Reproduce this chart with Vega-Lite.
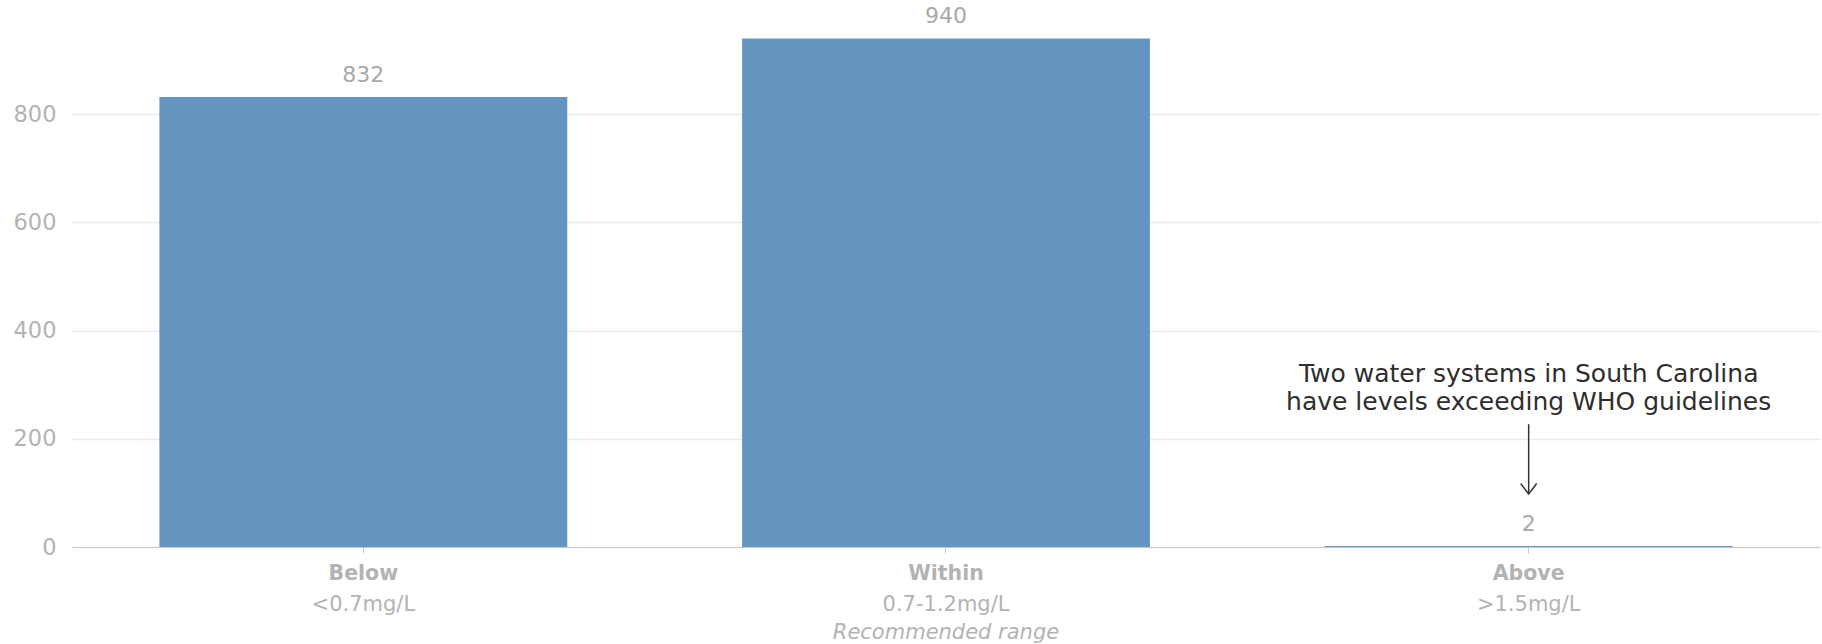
{
  "$schema": "https://vega.github.io/schema/vega-lite/v6.json",
  "width": 1748,
  "height": 541,
  "autosize": {"type": "none"},
  "padding": {"left": 72, "top": 6, "right": 2, "bottom": 97},
  "config": {
    "view": {"stroke": null},
    "font": "DejaVu Sans",
    "text": {"font": "DejaVu Sans"}
  },
  "datasets": {
    "counts": [
      {"level": "Below", "systems": 832},
      {"level": "Within", "systems": 940},
      {"level": "Above", "systems": 2}
    ],
    "note": [
      {"level": "Above", "y": 320, "line": "Two water systems in South Carolina"},
      {"level": "Above", "y": 268, "line": "have levels exceeding WHO guidelines"}
    ],
    "arrow": [
      {"level": "Above", "start": 227, "end": 98}
    ]
  },
  "resolve": {"axis": {"x": "independent"}},
  "layer": [
    {
      "data": {"name": "counts"},
      "mark": {"type": "bar", "color": "#6495c0"},
      "encoding": {
        "x": {
          "field": "level", "type": "nominal", "sort": ["Below", "Within", "Above"],
          "scale": {"paddingInner": 0.3, "paddingOuter": 0.15},
          "axis": {
            "orient": "bottom", "title": null, "labelAngle": 0,
            "labelFontWeight": "bold", "labelFontSize": 20.5, "labelColor": "#b3b3b3",
            "domainColor": "#c8c8c8", "tickColor": "#c8c8c8", "tickSize": 6,
            "labelPadding": 10, "grid": false
          }
        },
        "y": {
          "field": "systems", "type": "quantitative",
          "scale": {"domain": [0, 1000], "nice": false},
          "axis": {
            "title": null, "values": [0, 200, 400, 600, 800],
            "domain": false, "ticks": false, "labelPadding": 16,
            "labelFontSize": 22.5, "labelColor": "#b3b3b3",
            "gridColor": "#ebebeb", "gridWidth": 1.5
          }
        }
      }
    },
    {
      "data": {"name": "counts"},
      "mark": {"type": "text", "baseline": "middle", "dy": -22, "fontSize": 22, "color": "#a8a8a8"},
      "encoding": {
        "x": {
          "field": "level", "type": "nominal", "sort": ["Below", "Within", "Above"],
          "axis": {
            "orient": "bottom", "title": null, "labelAngle": 0, "domain": false, "ticks": false,
            "labelFontSize": 21, "labelColor": "#b3b3b3", "labelPadding": 46, "labelLimit": 500,
            "labelExpr": "datum.value == 'Below' ? '<0.7mg/L' : datum.value == 'Within' ? '0.7-1.2mg/L' : '>1.5mg/L'"
          }
        },
        "y": {"field": "systems", "type": "quantitative"},
        "text": {"field": "systems", "type": "quantitative"}
      }
    },
    {
      "data": {"name": "note"},
      "mark": {"type": "text", "baseline": "middle", "align": "center", "fontSize": 25, "color": "#2e2e2e"},
      "encoding": {
        "x": {
          "field": "level", "type": "nominal", "sort": ["Below", "Within", "Above"],
          "axis": {
            "orient": "bottom", "title": null, "labelAngle": 0, "domain": false, "ticks": false,
            "labelFontSize": 21, "labelFontStyle": "italic", "labelColor": "#b3b3b3", "labelPadding": 74, "labelLimit": 500,
            "labelExpr": "datum.value == 'Within' ? 'Recommended range' : ''"
          }
        },
        "y": {"field": "y", "type": "quantitative"},
        "text": {"field": "line"}
      }
    },
    {
      "data": {"name": "arrow"},
      "mark": {"type": "rule", "color": "#333333", "strokeWidth": 1.5},
      "encoding": {
        "x": {"field": "level", "type": "nominal", "sort": ["Below", "Within", "Above"], "axis": null},
        "y": {"field": "start", "type": "quantitative"},
        "y2": {"field": "end"}
      }
    },
    {
      "data": {"name": "arrow"},
      "mark": {"type": "point", "shape": "M-1,-1.3L0,0L1,-1.3", "filled": false, "size": 256, "color": "#333333", "strokeWidth": 1.5, "opacity": 1},
      "encoding": {
        "x": {"field": "level", "type": "nominal", "sort": ["Below", "Within", "Above"], "axis": null},
        "y": {"field": "end", "type": "quantitative"}
      }
    }
  ]
}
